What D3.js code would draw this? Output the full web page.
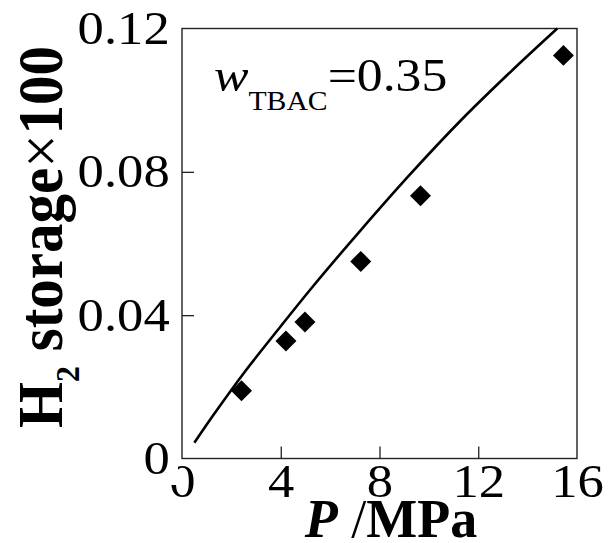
<!DOCTYPE html>
<html>
<head>
<meta charset="utf-8">
<script src="https://cdn.jsdelivr.net/npm/d3@7"></script>
<style>
  html, body { margin: 0; padding: 0; background: #fff; }
  svg { display: block; }
  text { font-family: "Liberation Serif", "Times New Roman", serif; fill: #000; }
</style>
</head>
<body>
<svg id="chart" width="608" height="543"></svg>
<script>
// Measured hydrogen storage vs. pressure (points)
const pressure = [2.41, 4.21, 4.98, 7.24, 9.66, 15.45];
const storage  = [0.0189, 0.0328, 0.0381, 0.0550, 0.0733, 0.1125];

// Model prediction (curve)
const modelPressure = [0.5, 1.3, 2.5, 4.0, 5.3, 7.2, 9.2, 11.3, 13.4, 15.2];
const modelStorage  = [0.0044, 0.0124, 0.0238, 0.0369, 0.0480, 0.0634, 0.0790, 0.0944, 0.1085, 0.1200];

// Axis ticks
const xTicks = [0, 4, 8, 12, 16];
const yTicks = [0, 0.04, 0.08, 0.12];
const yTickLabels = ["0", "0.04", "0.08", "0.12"];

const svg = d3.select("#chart");
const plot = { left: 182, right: 577, top: 28.5, bottom: 458.5 };
const stretch = 1.12;

const x = d3.scaleLinear().domain([0, 16]).range([plot.left, plot.right]);
const y = d3.scaleLinear().domain([0, 0.12]).range([plot.bottom, plot.top]);

// Bottom axis with inward ticks
const gx = svg.append("g")
  .attr("transform", `translate(0,${plot.bottom})`)
  .call(d3.axisBottom(x).tickValues(xTicks).tickSizeInner(-12).tickSizeOuter(0).tickPadding(5)
        .tickFormat(d3.format("d")));
gx.select(".domain").remove();
gx.selectAll(".tick line").attr("stroke", "#222").attr("stroke-width", 1.3)
  .filter(d => d === 0 || d === 16).remove();
gx.selectAll(".tick text")
  .style("font-family", '"Liberation Serif", serif').attr("font-size", 47)
  .attr("fill", "#000")
  .attr("transform", `scale(${stretch},1)`);

// Left axis with inward ticks
const gy = svg.append("g")
  .attr("transform", `translate(${plot.left},0)`)
  .call(d3.axisLeft(y).tickValues(yTicks).tickSizeInner(-12).tickSizeOuter(0).tickPadding(11)
        .tickFormat((d, i) => yTickLabels[i]));
gy.select(".domain").remove();
gy.selectAll(".tick line").attr("stroke", "#222").attr("stroke-width", 1.3)
  .filter(d => d === 0 || d === 0.12).remove();
// the y "0" sits over the x "0", masking its left half
gy.selectAll(".tick").filter(d => d === 0).insert("rect", "text")
  .attr("x", -38).attr("y", -22).attr("width", 34).attr("height", 48).attr("fill", "#fff");
gy.selectAll(".tick text")
  .style("font-family", '"Liberation Serif", serif').attr("font-size", 47)
  .attr("fill", "#000")
  .attr("transform", `scale(${stretch},1)`);

// Frame
svg.append("rect")
  .attr("x", plot.left).attr("y", plot.top)
  .attr("width", plot.right - plot.left).attr("height", plot.bottom - plot.top)
  .attr("fill", "none").attr("stroke", "#222").attr("stroke-width", 1.4);

// Model curve
const line = d3.line().x(d => x(d[0])).y(d => y(d[1])).curve(d3.curveCatmullRom);
svg.append("path")
  .datum(modelPressure.map((p, i) => [p, modelStorage[i]]))
  .attr("d", line)
  .attr("fill", "none").attr("stroke", "#000").attr("stroke-width", 2.6);

// Experimental points as filled diamonds
const diamond = d3.symbol().type(d3.symbolSquare).size(220);
svg.append("g").selectAll("path")
  .data(pressure.map((p, i) => [p, storage[i]]))
  .join("path")
  .attr("d", diamond)
  .attr("transform", d => `translate(${x(d[0])},${y(d[1])}) rotate(45)`)
  .attr("fill", "#000");

// Composition annotation
const ann = svg.append("g").attr("transform", "translate(214,91)")
  .append("text").attr("transform", `scale(1.1,1)`).attr("font-size", 47);
ann.append("tspan").attr("font-style", "italic").text("w");
ann.append("tspan").attr("font-size", 27).attr("dy", 19).text("TBAC");
ann.append("tspan").attr("dy", -19).text("=0.35");

// X axis title
const xt = svg.append("text").attr("x", 391).attr("y", 537)
  .attr("text-anchor", "middle").attr("font-size", 54);
xt.append("tspan").attr("font-weight", "bold").attr("font-style", "italic").text("P");
xt.append("tspan").text(" /");
xt.append("tspan").attr("font-weight", "bold").text("MPa");

// Y axis title
const yt = svg.append("text")
  .attr("transform", "translate(62,237) scale(1.08,1) rotate(-90)")
  .attr("text-anchor", "middle").attr("font-size", 59).attr("font-weight", "bold");
yt.append("tspan").text("H");
yt.append("tspan").attr("font-size", 32).attr("dy", 16).text("2");
yt.append("tspan").attr("dy", -16).text(" storage");
yt.append("tspan").attr("font-weight", "normal").text("\u00d7");
yt.append("tspan").text("100");
</script>
</body>
</html>
